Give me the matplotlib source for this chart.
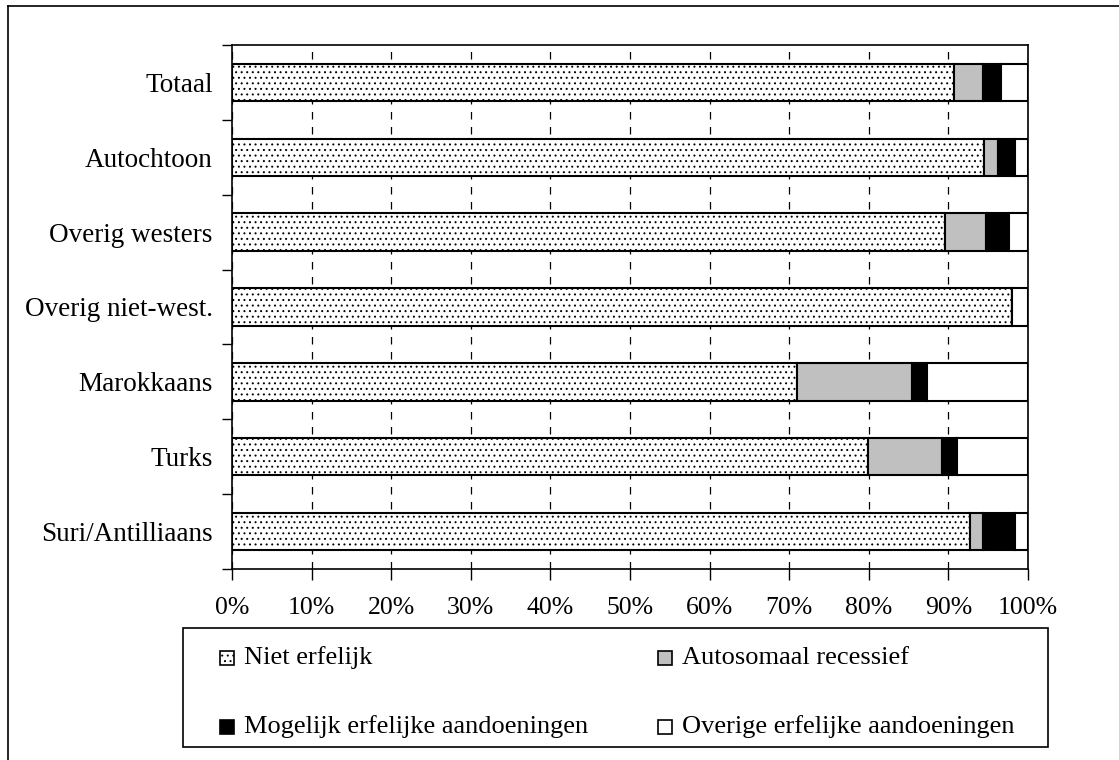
import numpy as np
import matplotlib
matplotlib.use("Agg")
import matplotlib.pyplot as plt
from matplotlib.patches import Rectangle
from matplotlib.lines import Line2D
from matplotlib.ticker import FuncFormatter

# data (percentages)
groups = ["Totaal", "Autochtoon", "Overig westers", "Overig niet-west.",
          "Marokkaans", "Turks", "Suri/Antilliaans"]
niet_erfelijk = [90.7, 94.5, 89.6, 98.0, 71.0, 79.9, 92.7]
autosomaal = [3.6, 1.7, 5.1, 0.0, 14.4, 9.3, 1.6]
mogelijk = [2.3, 2.2, 2.9, 0.0, 1.9, 1.9, 4.1]
overige = [100 - a - b - c for a, b, c in zip(niet_erfelijk, autosomaal, mogelijk)]
series_names = ["Niet erfelijk", "Autosomaal recessief",
                "Mogelijk erfelijke aandoeningen", "Overige erfelijke aandoeningen"]

plt.rcParams['font.family'] = ['Liberation Serif', 'DejaVu Serif']
plt.rcParams['hatch.linewidth'] = 0.7
plt.rcParams['hatch.color'] = '#333333'

W, H = 1119, 760
fig = plt.figure(figsize=(W / 100, H / 100), dpi=100)
ax = fig.add_axes([232 / W, 1 - 569 / H, (1028 - 232) / W, (569 - 45) / H])

y = np.arange(len(groups))
styles = [dict(facecolor="white", hatch="..."),
          dict(facecolor="#c0c0c0"),
          dict(facecolor="black"),
          dict(facecolor="white")]
left = np.zeros(len(groups))
for vals, st in zip([niet_erfelijk, autosomaal, mogelijk, overige], styles):
    vals = np.array(vals)
    ax.barh(y, vals, left=left, height=0.5, edgecolor="black", linewidth=1.5,
            zorder=3, **st)
    left += vals

ax.set_xlim(0, 100)
ax.set_ylim(len(groups) - 0.5, -0.5)
ax.set_xticks(np.arange(0, 101, 10))
ax.xaxis.set_major_formatter(FuncFormatter(lambda v, p: "%d%%" % v))
ax.set_yticks(y)
ax.set_yticklabels(groups)
ax.set_yticks(np.arange(-0.5, len(groups)), minor=True)
ax.tick_params(axis="y", which="major", length=0, pad=14, labelsize=19.5)
ax.tick_params(axis="y", which="minor", length=7, width=1, direction="out")
ax.tick_params(axis="x", length=8, width=1, direction="out", pad=12, labelsize=18.5)
ax.xaxis.grid(True, color="black", linestyle=(0, (6, 6)), linewidth=0.9, zorder=0)
ax.set_axisbelow(True)
for sp in ax.spines.values():
    sp.set_linewidth(1.2)

# figure border (cut off at right and bottom)
fig.add_artist(Line2D([7.5 / W, 7.5 / W], [0, 1 - 5.5 / H], transform=fig.transFigure,
                      color="black", linewidth=1.2))
fig.add_artist(Line2D([7.5 / W, 1], [1 - 5.5 / H, 1 - 5.5 / H], transform=fig.transFigure,
                      color="black", linewidth=1.2))

# legend box
fig.add_artist(Rectangle((183 / W, 1 - 747 / H), (1048 - 183) / W, (747 - 628) / H,
                         transform=fig.transFigure, facecolor="white",
                         edgecolor="black", linewidth=1.2))
pos = [(220, 658), (658, 658), (220, 727), (658, 727)]
for (px, py), name, st in zip(pos, series_names, styles):
    fig.add_artist(Rectangle((px / W, 1 - (py + 7) / H), 14 / W, 14 / H,
                             transform=fig.transFigure, edgecolor="black",
                             linewidth=1.2, **st))
    fig.text((px + 24) / W, 1 - py / H, name, fontsize=19, va="center", ha="left")

fig.savefig("out.png", dpi=100)
